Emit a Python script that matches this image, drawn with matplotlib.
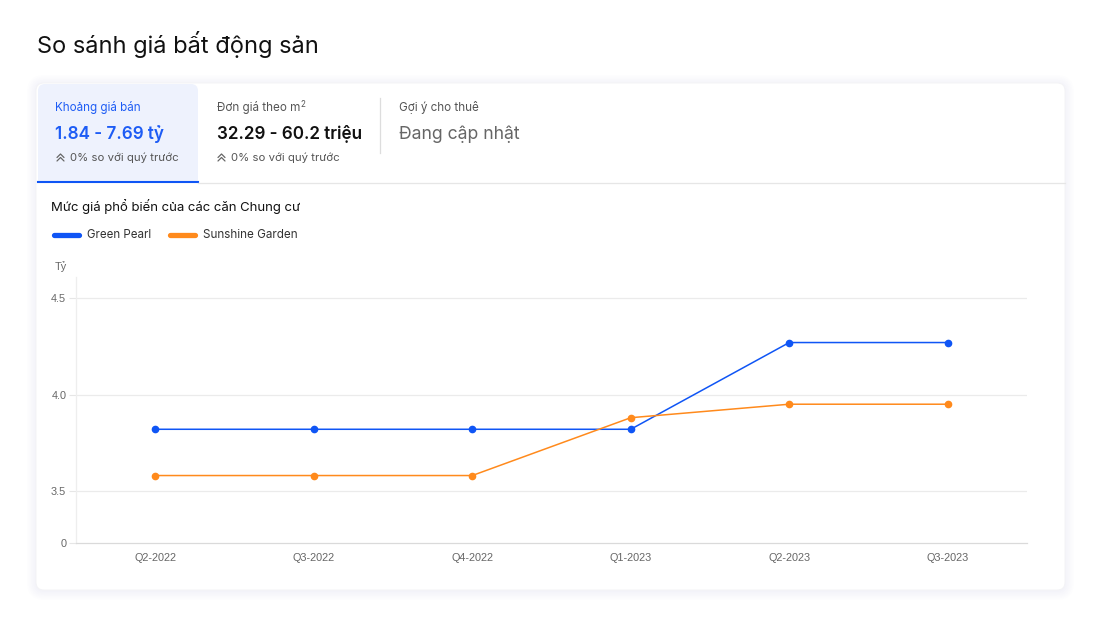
import numpy as np
from matplotlib import pyplot as plt
from matplotlib.patches import FancyBboxPatch, Rectangle

quarters = ['Q2-2022', 'Q3-2022', 'Q4-2022', 'Q1-2023', 'Q2-2023', 'Q3-2023']
green_pearl = [3.82, 3.82, 3.82, 3.82, 4.27, 4.27]
sunshine_garden = [3.58, 3.58, 3.58, 3.88, 3.95, 3.95]
y_ticks = [0, 3.5, 4.0, 4.5]
y_tick_labels = ['0', '3.5', '4.0', '4.5']

blue = '#0F55F5'
orange = '#FF8A1C'
ui_font = ['Inter', 'DejaVu Sans']
tick_font = ['Liberation Sans', 'DejaVu Sans']

fig = plt.figure(figsize=(11.05, 6.25), dpi=100)
fig.patch.set_facecolor('white')

# background axes in pixel units for the card and texts
bg = fig.add_axes([0, 0, 1, 1])
bg.set_xlim(0, 1105)
bg.set_ylim(625, 0)
bg.axis('off')

# soft shadow of the card
for i in range(6):
    pad = 1 + i * 1.6
    bg.add_patch(FancyBboxPatch((36 - pad, 83 - pad + 1), 1029 + 2 * pad, 507 + 2 * pad,
                                boxstyle='round,pad=0,rounding_size=%g' % (8 + pad),
                                fc='#8090b0', ec='none', alpha=0.011, zorder=1))
bg.add_patch(FancyBboxPatch((36, 83), 1029, 507, boxstyle='round,pad=0,rounding_size=8',
                            fc='white', ec='#f3f3f5', lw=0.6, zorder=2))

# active tab
bg.add_patch(FancyBboxPatch((38, 84), 160, 97, boxstyle='round,pad=0,rounding_size=7',
                            fc='#EEF2FD', ec='none', zorder=3))
bg.add_patch(Rectangle((38, 120), 160, 61, fc='#EEF2FD', ec='none', zorder=3))
bg.plot([38, 198], [181.5, 181.5], color=blue, lw=1.5, zorder=4)
bg.plot([198, 1065], [182.5, 182.5], color='#E6E6E6', lw=0.9, zorder=4)
bg.plot([380, 380], [98, 153], color='#DDDDDD', lw=0.9, zorder=4)

fig.text(37 / 1105, 1 - 45 / 625, 'So sánh giá bất động sản', family=ui_font,
         fontsize=17, color='#111111', va='center')

bg.text(55, 107, 'Khoảng giá bán', family=ui_font, fontsize=8.4, color='#1D5CF5', va='center', zorder=5)
bg.text(55, 134, '1.84 - 7.69 tỷ', family=ui_font, fontsize=12.3, color='#1D5CF5',
        fontweight='semibold', va='center', zorder=5)
unit = bg.text(217, 107, 'Đơn giá theo m', family=ui_font, fontsize=8.4, color='#555555',
               va='center', zorder=5)
bg.text(217, 134, '32.29 - 60.2 triệu', family=ui_font, fontsize=12.3, color='#111111',
        fontweight='semibold', va='center', zorder=5)
bg.text(399, 107, 'Gợi ý cho thuê', family=ui_font, fontsize=8.4, color='#555555', va='center', zorder=5)
bg.text(399, 134, 'Đang cập nhật', family=ui_font, fontsize=12.7, color='#666666', va='center', zorder=5)

# superscript 2 right after "m"
fig.canvas.draw()
ext = unit.get_window_extent()
x_end = bg.transData.inverted().transform((ext.x1, ext.y0))[0]
bg.text(x_end + 0.3, 104.5, '2', family=ui_font, fontsize=5.8, color='#555555', va='center', zorder=5)

for x0 in [57, 218]:
    for dy in [0, 3.5]:
        bg.plot([x0, x0 + 3.5, x0 + 7], [157.5 + dy, 154 + dy, 157.5 + dy], color='#666666',
                lw=0.9, zorder=5, solid_capstyle='round', solid_joinstyle='round')
    bg.text(x0 + 13, 158, '0% so với quý trước', family=ui_font, fontsize=8.2,
            color='#555555', va='center', zorder=5)

bg.text(51, 207, 'Mức giá phổ biến của các căn Chung cư', family=ui_font, fontsize=9.45,
        color='#111111', va='center', zorder=5)

# legend
bg.plot([53.5, 78.5], [235, 235], color=blue, lw=3.8, solid_capstyle='round', zorder=5)
bg.text(87, 235, 'Green Pearl', family=ui_font, fontsize=8.3, color='#333333', va='center', zorder=5)
bg.plot([169.5, 194.5], [235, 235], color=orange, lw=3.8, solid_capstyle='round', zorder=5)
bg.text(203, 235, 'Sunshine Garden', family=ui_font, fontsize=8.4, color='#333333', va='center', zorder=5)
bg.text(61, 267, 'Tỷ', family=tick_font, fontsize=7.8, color='#666666', va='center', ha='center', zorder=5)

# chart with a broken y scale (0 -> 3.5 compressed)
k = 0.27


def fwd(v):
    v = np.asarray(v, dtype=float)
    return np.where(v >= 3.5, v - 3.5 + k, v * k / 3.5)


def inv(u):
    u = np.asarray(u, dtype=float)
    return np.where(u >= k, u - k + 3.5, u * 3.5 / k)


ax = fig.add_axes([76 / 1105, 1 - 543 / 625, (1027 - 76) / 1105, (543 - 277) / 625], zorder=10)
ax.set_facecolor('none')
ax.set_yscale('function', functions=(fwd, inv))
ax.set_ylim(0, 4.61)
ax.set_xlim(-0.5, 5.5)

x = np.arange(len(quarters))
ax.plot(x, green_pearl, color=blue, lw=1.1, marker='o', ms=4.5, zorder=3)
ax.plot(x, sunshine_garden, color=orange, lw=1.1, marker='o', ms=4.5, zorder=3)

ax.set_xticks(x)
ax.set_xticklabels(quarters, family=tick_font, fontsize=7.8, color='#666666')
ax.set_yticks(y_ticks)
ax.set_yticklabels(y_tick_labels, family=tick_font, fontsize=7.8, color='#666666')
ax.tick_params(axis='x', length=0, pad=7)
ax.tick_params(axis='y', length=5, color='#E6E6E6', width=0.8, pad=2)
ax.yaxis.set_minor_locator(plt.NullLocator())
for v in y_ticks[1:]:
    ax.axhline(v, color='#EBEBEB', lw=0.9, zorder=1)
ax.spines['top'].set_visible(False)
ax.spines['right'].set_visible(False)
ax.spines['left'].set_color('#EEEEEE')
ax.spines['left'].set_linewidth(0.9)
ax.spines['bottom'].set_color('#DADADA')
ax.spines['bottom'].set_linewidth(0.9)

plt.savefig('out.png', dpi=100)
